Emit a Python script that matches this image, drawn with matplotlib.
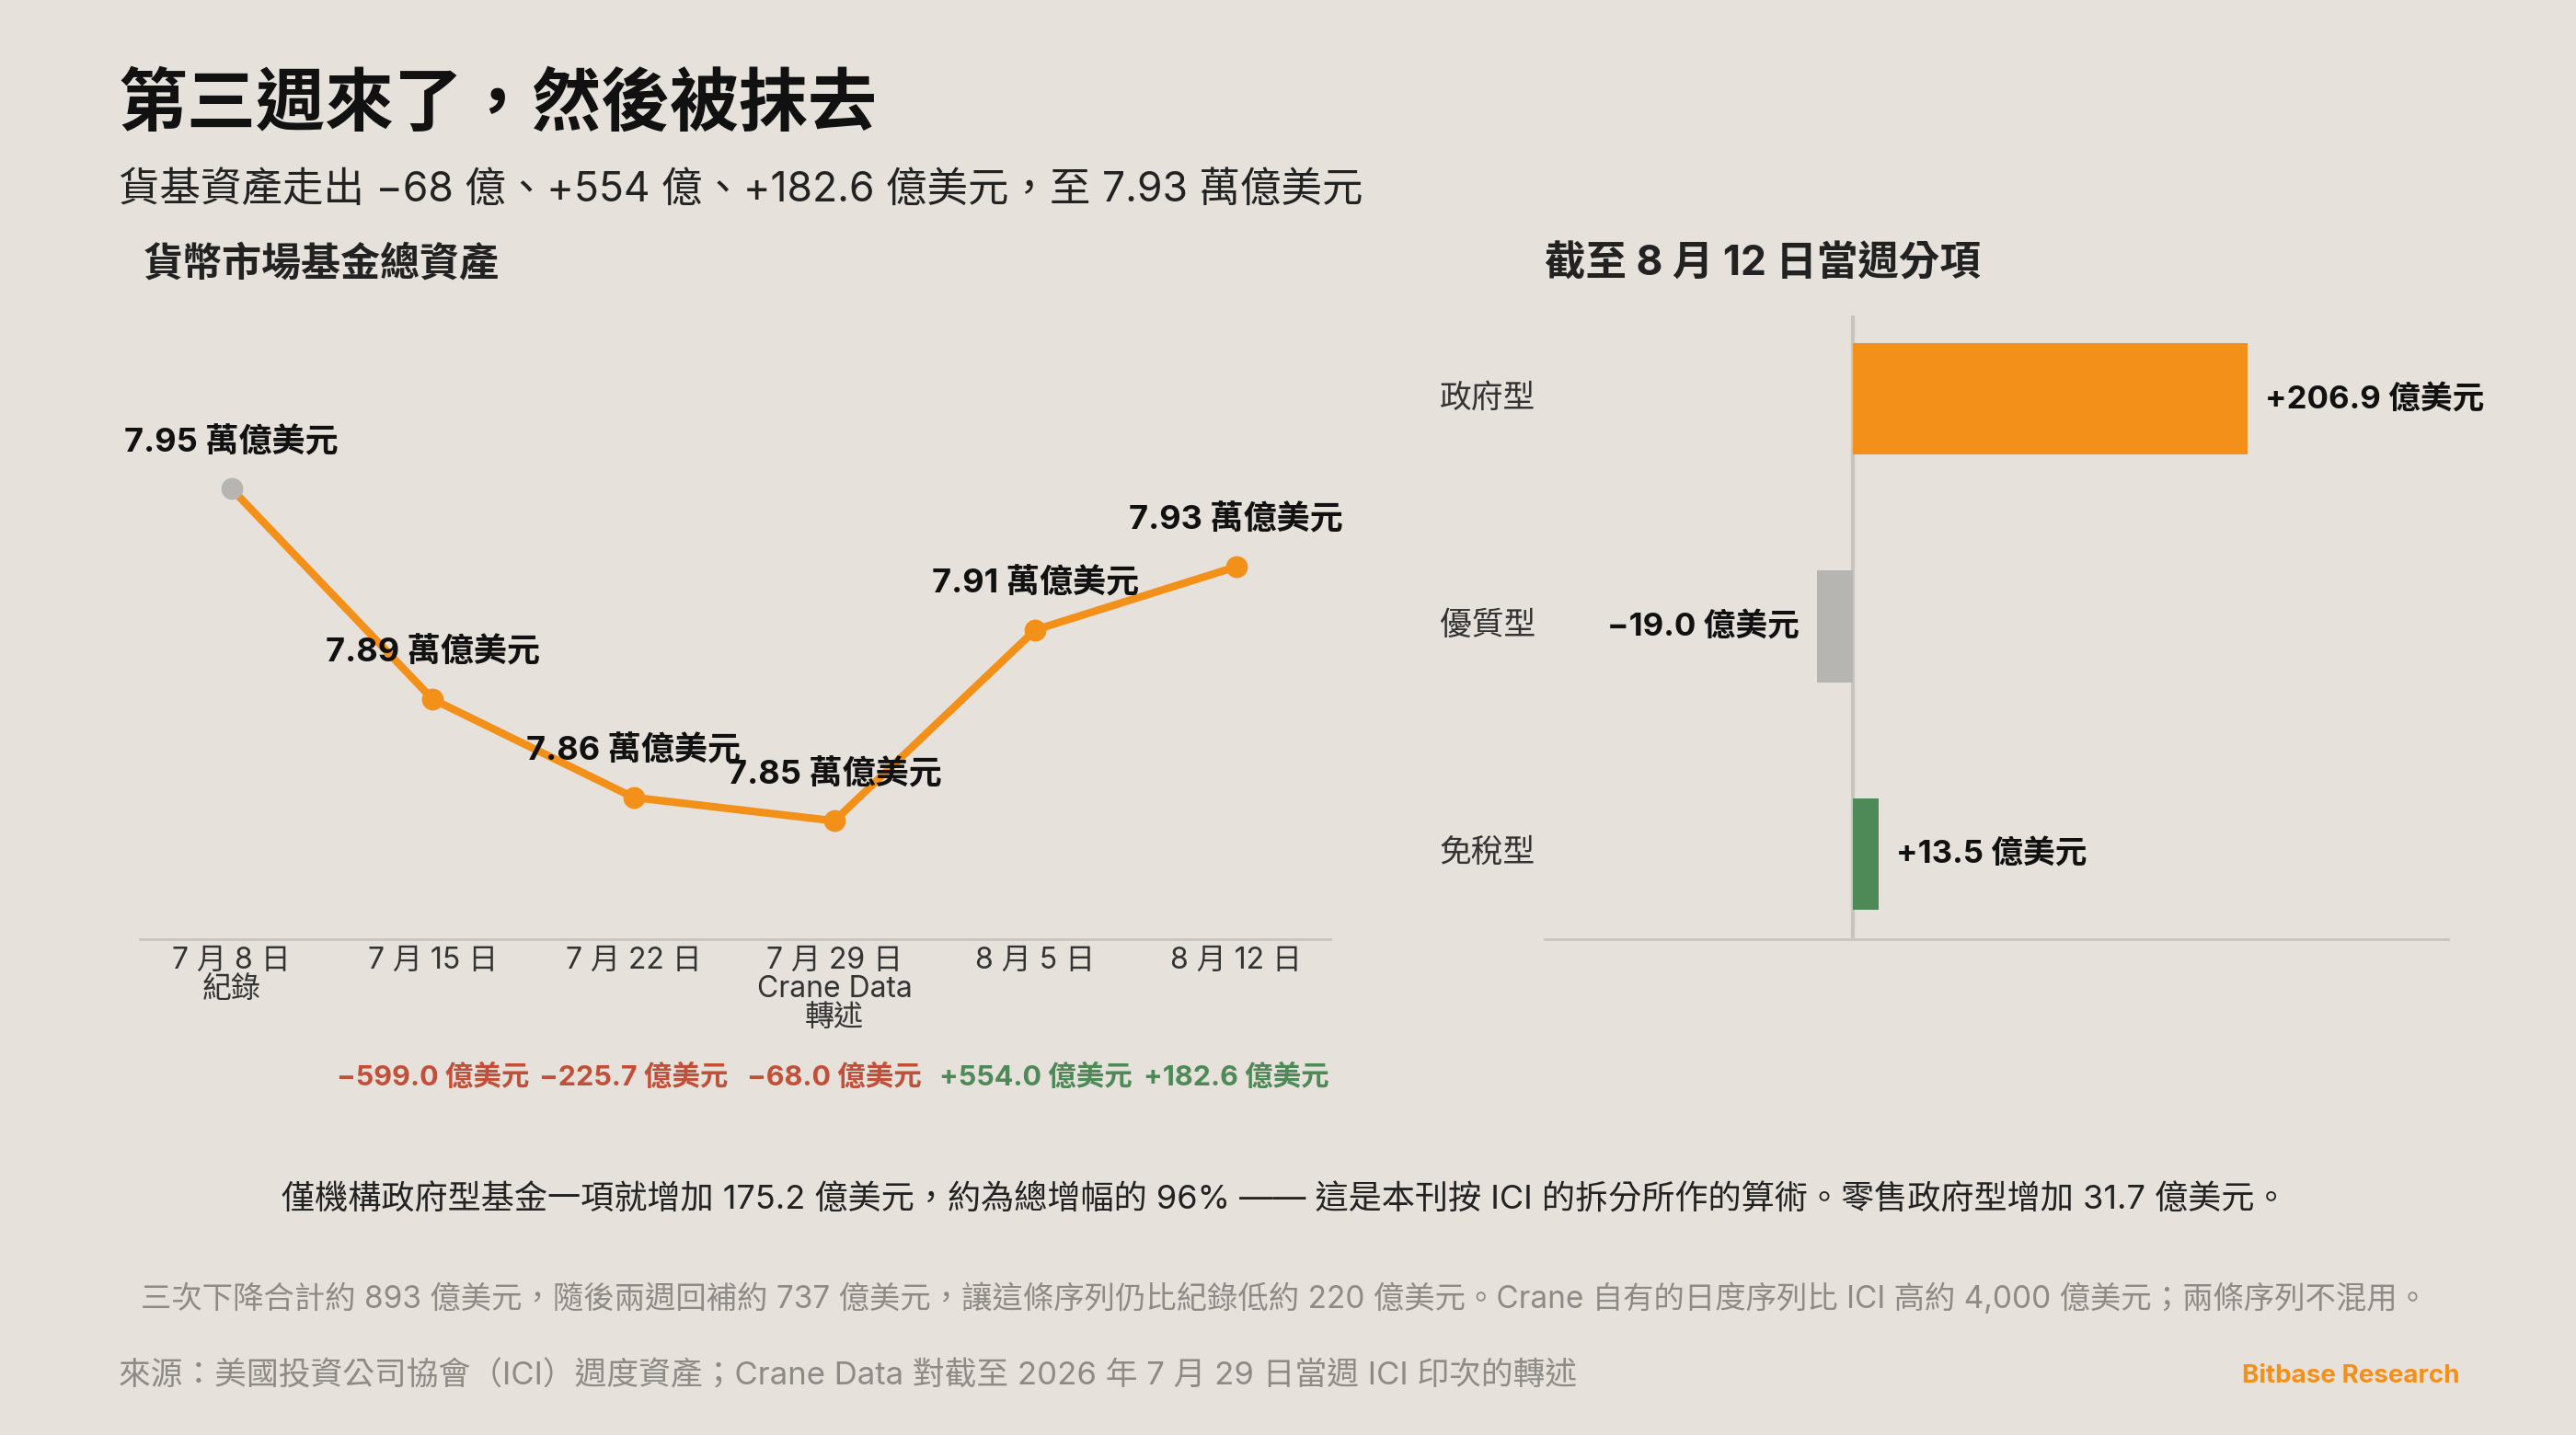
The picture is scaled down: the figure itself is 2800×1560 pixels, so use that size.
import matplotlib
matplotlib.use('Agg')
import matplotlib.pyplot as plt

plt.rcParams['font.family'] = ['Inter', 'Noto Sans CJK TC', 'DejaVu Sans']

#data
dates = ['7 月 8 日\n紀錄', '7 月 15 日', '7 月 22 日', '7 月 29 日\nCrane Data\n轉述', '8 月 5 日', '8 月 12 日']
assets = [7.968, 7.907, 7.8785, 7.8717, 7.9271, 7.9454]
asset_labels = ['7.95 萬億美元', '7.89 萬億美元', '7.86 萬億美元', '7.85 萬億美元', '7.91 萬億美元', '7.93 萬億美元']
changes = ['−599.0 億美元', '−225.7 億美元', '−68.0 億美元', '+554.0 億美元', '+182.6 億美元']
change_up = [False, False, False, True, True]

fund_types = ['政府型', '優質型', '免稅型']
fund_flows = [206.9, -19.0, 13.5]
fund_labels = ['+206.9 億美元', '−19.0 億美元', '+13.5 億美元']

BG = '#E6E1DB'
ORANGE = '#F39019'
GRAY = '#B7B5B2'
GREEN = '#4E8A57'
RED = '#C0503A'
W, H = 1568.0, 874.0

def fx(x):
    return x / W

def fy(y):
    return 1 - y / H

fig = plt.figure(figsize=(28, 15.6), dpi=100, facecolor=BG)

fig.text(fx(72), fy(65), '第三週來了，然後被抹去', fontsize=54, fontweight='bold', va='center', color='#111111')
fig.text(fx(72), fy(116), '貨基資產走出 −68 億、+554 億、+182.6 億美元，至 7.93 萬億美元', fontsize=32, va='center', color='#222222')
fig.text(fx(87), fy(161), '貨幣市場基金總資產', fontsize=31, fontweight='bold', va='center', color='#222222')
fig.text(fx(940), fy(161), '截至 8 月 12 日當週分項', fontsize=32, fontweight='bold', va='center', color='#222222')

# left line chart
ax = fig.add_axes([fx(85), fy(572), fx(810) - fx(85), (572 - 190) / H])
ax.set_facecolor(BG)
xs = list(range(len(assets)))
ax.plot(xs, assets, color=ORANGE, lw=6, zorder=2)
ax.scatter(xs[1:], assets[1:], s=260, color=ORANGE, zorder=3)
ax.scatter(xs[:1], assets[:1], s=260, color=GRAY, zorder=3)
for i, (v, lab) in enumerate(zip(assets, asset_labels)):
    ax.annotate(lab, (i, v), xytext=(0, 24), textcoords='offset points', ha='center', va='bottom',
                fontsize=26, fontweight='bold', color='#111111')
ax.set_xlim(-0.458, 5.47)
ax.set_ylim(7.8374, 8.0193)
ax.set_yticks([])
ax.set_xticks(xs)
ax.set_xticklabels(dates, fontsize=23, color='#333333', linespacing=1.0)
ax.tick_params(axis='x', length=0, pad=6)
for s in ['top', 'right', 'left']:
    ax.spines[s].set_visible(False)
ax.spines['bottom'].set_color('#C9C4BE')
ax.spines['bottom'].set_linewidth(2)
for i, (c, up) in enumerate(zip(changes, change_up)):
    ax.text(i + 1, -0.22, c, transform=ax.get_xaxis_transform(), ha='center', va='center',
            fontsize=22, fontweight='bold', color=GREEN if up else RED)

# right bar chart
bx = fig.add_axes([fx(940), fy(572), fx(1490) - fx(940), (572 - 192) / H])
bx.set_facecolor(BG)
ys = [0, 1, 2]
colors = [ORANGE if v > 100 else (GREEN if v > 0 else GRAY) for v in fund_flows]
bx.barh(ys, fund_flows, height=0.49, color=colors, zorder=2)
bx.axvline(0, color='#C9C4BE', lw=3, zorder=1)
bx.set_xlim(-162, 312)
bx.set_ylim(2.375, -0.368)
bx.set_xticks([])
bx.set_yticks([])
for s in ['top', 'right', 'left']:
    bx.spines[s].set_visible(False)
bx.spines['bottom'].set_color('#C9C4BE')
bx.spines['bottom'].set_linewidth(2)
for y, name, v, lab in zip(ys, fund_types, fund_flows, fund_labels):
    bx.text(-0.01, y, name, transform=bx.get_yaxis_transform(), ha='right', va='center', fontsize=25, color='#333333')
    off = 9 if v > 0 else -9
    bx.text(v + off, y, lab, ha='left' if v > 0 else 'right', va='center', fontsize=25, fontweight='bold', color='#111111')

# notes
fig.text(fx(782), fy(731), '僅機構政府型基金一項就增加 175.2 億美元，約為總增幅的 96% —— 這是本刊按 ICI 的拆分所作的算術。零售政府型增加 31.7 億美元。',
         fontsize=26, ha='center', va='center', color='#222222')
fig.text(fx(782), fy(791), '三次下降合計約 893 億美元，隨後兩週回補約 737 億美元，讓這條序列仍比紀錄低約 220 億美元。Crane 自有的日度序列比 ICI 高約 4,000 億美元；兩條序列不混用。',
         fontsize=24, ha='center', va='center', color='#8E8A86')
fig.text(fx(72), fy(838), '來源：美國投資公司協會（ICI）週度資產；Crane Data 對截至 2026 年 7 月 29 日當週 ICI 印次的轉述',
         fontsize=25, ha='left', va='center', color='#8E8A86')
fig.text(fx(1497), fy(838), 'Bitbase Research', fontsize=20, fontweight='bold', ha='right', va='center', color=ORANGE)

fig.savefig('out.png', dpi=100, facecolor=BG)
